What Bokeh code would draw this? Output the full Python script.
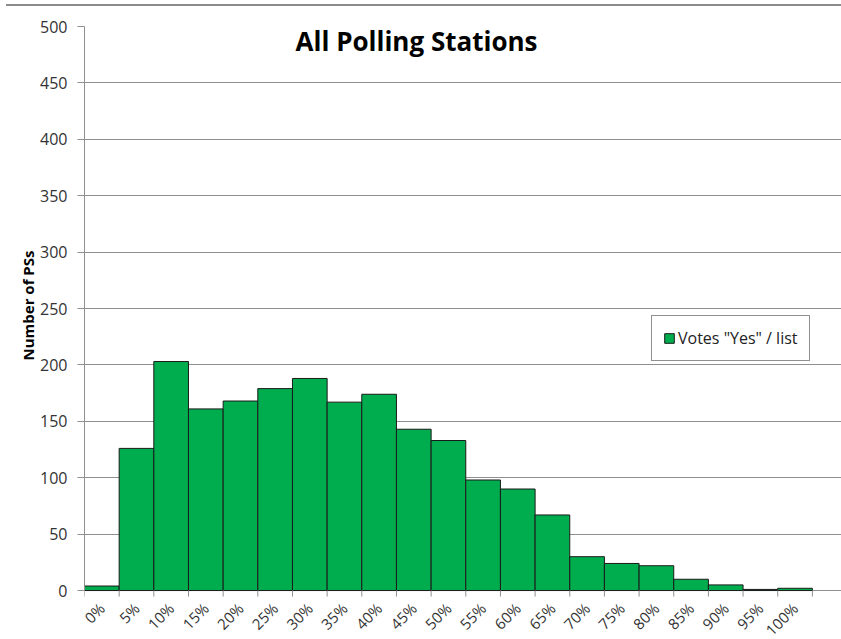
import math
from bokeh.plotting import figure
from bokeh.layouts import column
from bokeh.models import (ColumnDataSource, FixedTicker, Range1d, Label, Legend,
                          LegendItem, Div, LabelSet, Title)
from bokeh.core.properties import value
from bokeh.embed import file_html
from bokeh.resources import INLINE

# ---- data ----
bins = ["0%", "5%", "10%", "15%", "20%", "25%", "30%", "35%", "40%", "45%", "50%",
        "55%", "60%", "65%", "70%", "75%", "80%", "85%", "90%", "95%", "100%"]
counts = [4, 126, 203, 161, 168, 179, 188, 167, 174, 143, 133,
          98, 90, 67, 30, 24, 22, 10, 5, 1, 2]
series_name = 'Votes "Yes" / list'
title_text = "All Polling Stations"
y_label = "Number of PSs"
y_ticks = list(range(0, 501, 50))

GREEN = "#00AD4E"
GRID = "#8f8f8f"
FONT = "Open Sans"

centers = [i + 0.5 for i in range(len(bins))]
edges = list(range(len(bins) + 1))
src = ColumnDataSource(dict(x=centers, top=counts, label=bins, base=[0] * len(bins)))
edge_src = ColumnDataSource(dict(x=edges, y=[0] * len(edges)))

top_line = Div(width=835, height=4, margin=(0, 0, 0, 6),
               styles={"border-bottom": "2px solid #8c8c8c", "box-sizing": "content-box"})

# frame extends below zero so that the rotated category labels fit inside it
p = figure(width=841, height=633, output_backend="svg", toolbar_location=None,
           x_range=Range1d(0, 21.84), y_range=Range1d(-43.4, 500),
           x_axis_location=None,
           min_border_left=84, min_border_right=0, min_border_top=20, min_border_bottom=0,
           margin=0)
p.outline_line_color = None
p.background_fill_color = "white"
p.border_fill_color = "white"

p.xgrid.grid_line_color = None
p.ygrid.ticker = FixedTicker(ticks=y_ticks)
p.ygrid.grid_line_color = GRID
p.ygrid.grid_line_width = 1

r = p.vbar(x="x", top="top", width=1.0, bottom=0, source=src,
           fill_color=GREEN, line_color="#1a1a1a", line_width=1)

# category tick marks at bar edges
p.ray(x="x", y="y", length=6, length_units="screen", angle=-math.pi / 2,
      source=edge_src, line_color=GRID, line_width=1)

# y axis
p.yaxis.ticker = FixedTicker(ticks=y_ticks)
p.yaxis.bounds = (0, 500)
p.yaxis.axis_line_color = GRID
p.yaxis.major_tick_line_color = GRID
p.yaxis.major_tick_out = 7
p.yaxis.major_tick_in = 0
p.yaxis.minor_tick_line_color = None
p.yaxis.major_label_text_font = FONT
p.yaxis.major_label_text_font_size = "16px"
p.yaxis.major_label_text_color = "#333333"
p.yaxis.major_label_standoff = 10

p.add_layout(Title(text=y_label, align="left", offset=279, standoff=0,
                   text_font=FONT, text_font_size="15px", text_font_style="bold",
                   text_color="#000000"), "left")

# category labels, rotated, anchored under bar centres
p.add_layout(LabelSet(x="x", y="base", text="label", source=src,
                      angle=math.pi / 4, text_align="right", text_baseline="middle",
                      y_offset=-15, x_offset=0,
                      text_font=value(FONT), text_font_size="15px",
                      text_color="#333333"))

# title inside plot
p.add_layout(Label(x=9.58, y=487, text=title_text, text_font=FONT,
                   text_font_size="26px", text_font_style="bold",
                   text_align="center", text_baseline="middle", text_color="#000000"))

legend = Legend(items=[LegendItem(label=series_name, renderers=[r])],
                location=(567, 278), border_line_color="#222222", border_line_width=1,
                label_text_font=FONT, label_text_font_size="16px",
                label_text_color="#222222", glyph_width=12, glyph_height=12,
                padding=11, margin=0, spacing=0, label_standoff=3,
                background_fill_alpha=1.0)
p.add_layout(legend)

layout = column(top_line, p, spacing=0, margin=0)
open("out.html", "w").write(file_html(layout, INLINE))
